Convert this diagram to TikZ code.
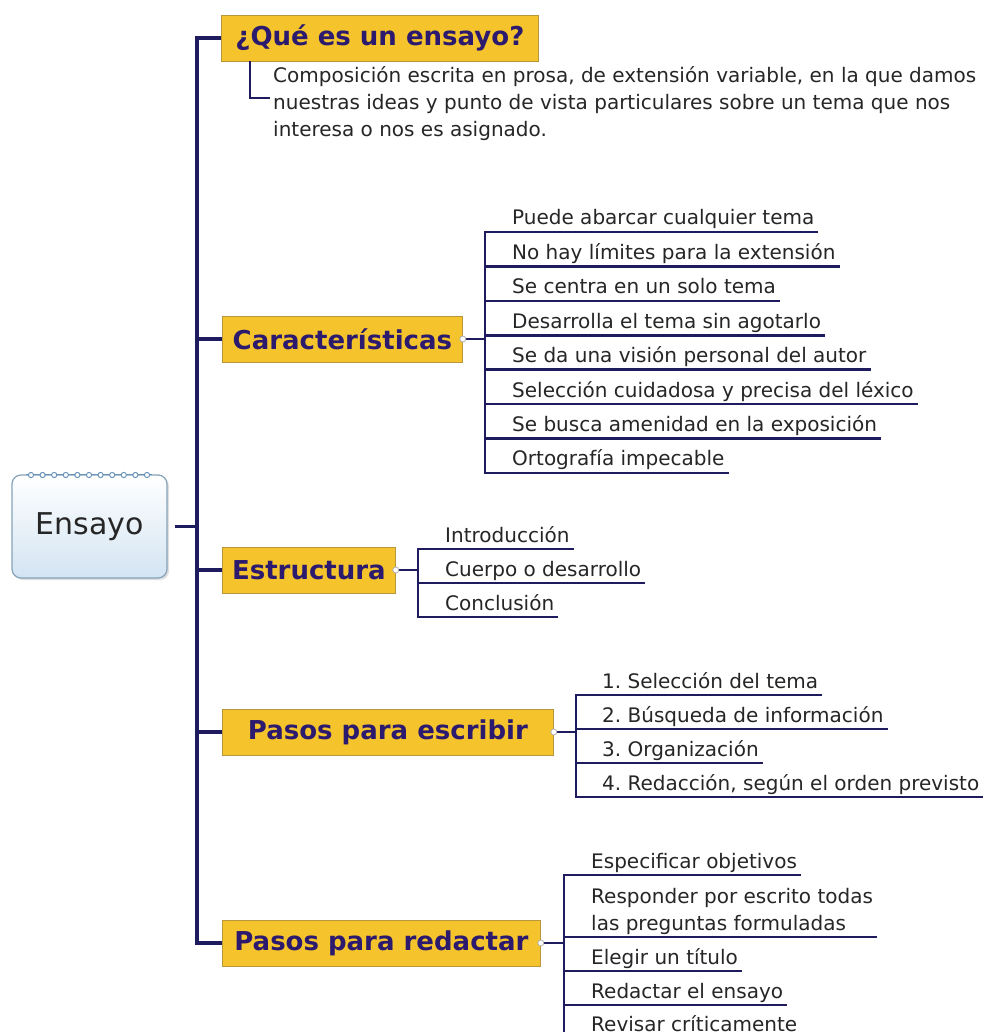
\documentclass[tikz,border=0pt]{standalone}
\usepackage{fontspec}
\setmainfont{DejaVu Sans}
\usetikzlibrary{shadows}
\definecolor{gold}{HTML}{F5C42C}
\definecolor{goldedge}{HTML}{B8973A}
\definecolor{navy}{HTML}{1E1B5E}
\definecolor{ink}{HTML}{2B1A6E}
\definecolor{bodytxt}{HTML}{262626}
\definecolor{paleblue}{HTML}{D3E4F2}
\definecolor{ringblue}{HTML}{6C93B8}
\definecolor{boxedge}{HTML}{86A3BA}
\begin{document}
\begin{tikzpicture}[x=1pt,y=-1pt,
  topic/.style={draw=goldedge, line width=0.8pt, fill=gold, text=ink,
    font=\fontsize{26}{30}\selectfont\bfseries, minimum height=46pt,
    inner sep=0pt, anchor=west},
  item/.style={font=\fontsize{20}{27}\selectfont\frenchspacing, text=bodytxt,
    inner xsep=4pt, inner ysep=0pt, anchor=base west},
  trunkline/.style={draw=navy, line width=3.5pt},
  subline/.style={draw=navy, line width=2.6pt},
  knob/.style={circle, draw=gray!60, fill=white, line width=0.8pt,
    inner sep=0pt, minimum size=6pt},
  rootbox/.style={rounded corners=9pt, draw=boxedge, line width=1.2pt,
    top color=white, bottom color=paleblue, minimum width=155pt,
    minimum height=103pt, font=\fontsize{30}{34}\selectfont, text=black!85,
    drop shadow={opacity=0.25, shadow xshift=2pt, shadow yshift=-2pt}},
]
\clip (0,0) rectangle (987,1032);
\fill[white] (0,0) rectangle (987,1032);

% root
\node[rootbox] (E) at (89.5,526.5) {Ensayo};
\draw[ringblue, line width=0.8pt] (26,474) -- (152,474);
\foreach \k in {0,...,10}
  \draw[ringblue, line width=1pt, fill=white] (31+\k*11.6,475) circle (2.6pt);

% main topics
\node[topic, minimum width=317pt] (Q) at (221,38) {¿Qué es un ensayo?};
\node[topic, minimum width=240pt] (C) at (222,339) {Características};
\node[topic, minimum width=173pt] (S) at (222,570) {Estructura};
\node[topic, minimum width=331pt] (W) at (222,732) {Pasos para escribir};
\node[topic, minimum width=318pt] (R) at (222,943) {Pasos para redactar};

% trunk
\coordinate (tk) at (197,0);
\draw[trunkline] (Q.west) -- (Q.west -| tk) |- (R.west);
\draw[trunkline] (C.west -| tk) -- (C.west);
\draw[trunkline] (S.west -| tk) -- (S.west);
\draw[trunkline] (W.west -| tk) -- (W.west);
\draw[trunkline, shorten <=7pt] (E.east) -- (E.east -| tk);

% definition
\node[item] (D) at (269,83) {\begin{tabular}[t]{@{}l@{}}Composición escrita en prosa, de extensión variable, en la que damos\\nuestras ideas y punto de vista particulares sobre un tema que nos\\interesa o nos es asignado.\end{tabular}};
\coordinate (qd) at (250,98);
\coordinate (qe) at (270,98);
\draw[subline] (Q.south -| qd) -- (qd) -- (qe);

% Caracteristicas
\foreach \t [count=\i] in {Puede abarcar cualquier tema, No hay límites para la extensión,
  Se centra en un solo tema, Desarrolla el tema sin agotarlo,
  Se da una visión personal del autor, Selección cuidadosa y precisa del léxico,
  Se busca amenidad en la exposición, Ortografía impecable} {
  \pgfmathsetmacro{\yy}{232+34.4*(\i-1)}
  \node[item] (c\i) at (508,\yy-7) {\t};
  \coordinate (cu\i) at (485,\yy);
  \draw[subline] (cu\i) -- (cu\i -| c\i.east);
}
\draw[subline] (cu1 -| c1.east) -- (cu1) -- (cu8) -- (cu8 -| c8.east);
\draw[subline] (C.east) -- (C.east -| cu1);
\node[knob] (kC) at (C.east) {};

% Estructura
\foreach \t [count=\i] in {Introducción, Cuerpo o desarrollo, Conclusión} {
  \pgfmathsetmacro{\yy}{549+34*(\i-1)}
  \node[item] (s\i) at (441,\yy-7) {\t};
  \coordinate (su\i) at (418,\yy);
  \draw[subline] (su\i) -- (su\i -| s\i.east);
}
\draw[subline] (su1 -| s1.east) -- (su1) -- (su3) -- (su3 -| s3.east);
\draw[subline] (S.east) -- (S.east -| su1);
\node[knob] (kS) at (S.east) {};

% Pasos para escribir
\foreach \t [count=\i] in {1. Selección del tema, 2. Búsqueda de información,
  3. Organización, {4. Redacción, según el orden previsto}} {
  \pgfmathsetmacro{\yy}{695+34*(\i-1)}
  \node[item] (w\i) at (598,\yy-7) {\t};
  \coordinate (wu\i) at (576,\yy);
  \draw[subline] (wu\i) -- (wu\i -| w\i.east);
}
\draw[subline] (wu1 -| w1.east) -- (wu1) -- (wu4) -- (wu4 -| w4.east);
\draw[subline] (W.east) -- (W.east -| wu1);
\node[knob] (kW) at (W.east) {};

% Pasos para redactar
\node[item] (r1) at (587,868) {Especificar objetivos};
\node[item] (r2) at (587,930) {\begin{tabular}[b]{@{}l@{}}Responder por escrito todas\\las preguntas formuladas\end{tabular}};
\node[item] (r3) at (587,964) {Elegir un título};
\node[item] (r4) at (587,998) {Redactar el ensayo};
\node[item] (r5) at (587,1031) {Revisar críticamente};
\coordinate (ru1) at (564,875);
\coordinate (ru2) at (564,937);
\coordinate (ru3) at (564,971);
\coordinate (ru4) at (564,1005);
\coordinate (ru5) at (564,1039);
\draw[subline] (ru1 -| r1.east) -- (ru1) -- (ru5) -- (ru5 -| r5.east);
\draw[subline] (ru2) -- (ru2 -| r2.east);
\draw[subline] (ru3) -- (ru3 -| r3.east);
\draw[subline] (ru4) -- (ru4 -| r4.east);
\draw[subline] (R.east) -- (R.east -| ru1);
\node[knob] (kR) at (R.east) {};
\end{tikzpicture}
\end{document}
